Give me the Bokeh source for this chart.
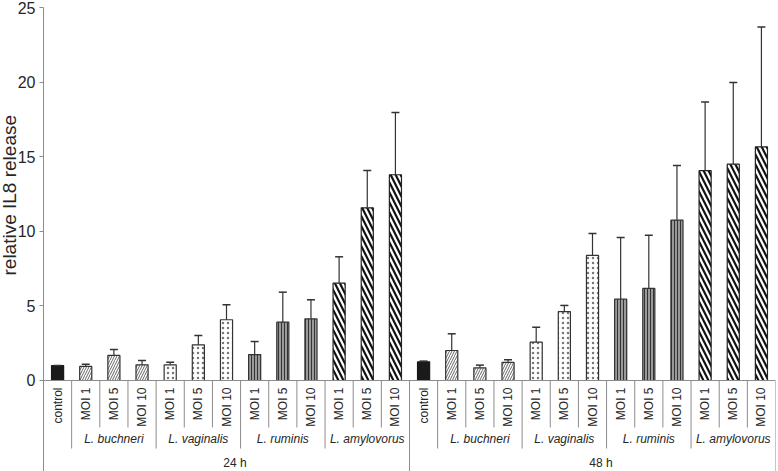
import math
from bokeh.plotting import figure
from bokeh.models import (ColumnDataSource, Range1d, FixedTicker, Whisker, TeeHead,
                          Title, Span)
from bokeh.embed import file_html
from bokeh.resources import INLINE
from bokeh.core.properties import value

# ---------------- data ----------------
times = ["24 h", "48 h"]
species = ["L. buchneri", "L. vaginalis", "L. ruminis", "L. amylovorus"]
mois = ["MOI 1", "MOI 5", "MOI 10"]
control_label = "control"

control_mean = [1.00, 1.25]
control_err = [0.00, 0.05]

# order: buchneri (MOI1,5,10), vaginalis, ruminis, amylovorus
mean_24 = [0.94, 1.68, 1.05, 1.05, 2.39, 4.07, 1.74, 3.91, 4.13, 6.52, 11.57, 13.79]
err_24 = [0.15, 0.40, 0.29, 0.18, 0.63, 1.00, 0.87, 2.01, 1.28, 1.77, 2.50, 4.17]
mean_48 = [2.01, 0.85, 1.21, 2.57, 4.62, 8.38, 5.45, 6.17, 10.75, 14.07, 14.50, 15.66]
err_48 = [1.12, 0.18, 0.18, 1.00, 0.41, 1.47, 4.13, 3.57, 3.66, 4.59, 5.47, 8.04]

y_ticks = [0, 5, 10, 15, 20, 25]
y_title = "relative IL8 release"

# ---------------- build table ----------------
means = [mean_24, mean_48]
errs = [err_24, err_48]
block = 1 + len(species) * len(mois)
n_cat = block * len(times)

rows = {"x": [], "top": [], "upper": [], "group": [], "label": []}
for t in range(len(times)):
    base = t * block
    rows["x"].append(base + 0.5)
    rows["top"].append(control_mean[t])
    rows["upper"].append(control_mean[t] + control_err[t])
    rows["group"].append(control_label)
    rows["label"].append(control_label)
    for s, sp in enumerate(species):
        for m, mo in enumerate(mois):
            k = s * len(mois) + m
            rows["x"].append(base + 1 + k + 0.5)
            rows["top"].append(means[t][k])
            rows["upper"].append(means[t][k] + errs[t][k])
            rows["group"].append(sp)
            rows["label"].append(mo)

# ---------------- figure ----------------
Y_MIN = -6.10
p = figure(width=778, height=471, x_range=Range1d(0, n_cat), y_range=Range1d(Y_MIN, 25),
           output_backend="svg", toolbar_location=None, x_axis_location=None,
           min_border_left=43, min_border_right=3, min_border_top=7, min_border_bottom=0)
p.outline_line_color = None
p.grid.visible = False
p.background_fill_color = "white"

FONT = "Liberation Sans"
TXT = "#262626"
GRAY = "#8c8c8c"

ax = p.yaxis[0]
ax.ticker = FixedTicker(ticks=y_ticks)
ax.minor_tick_line_color = None
ax.major_tick_in = 0
ax.major_tick_out = 4
ax.axis_line_color = GRAY
ax.major_tick_line_color = GRAY
ax.major_label_text_font = FONT
ax.major_label_text_font_size = "16px"
ax.major_label_text_color = TXT
ax.major_label_standoff = 4

styles = {
    "control": dict(fill_color="#1a1a1a", line_color="#1a1a1a"),
    "L. buchneri": dict(fill_color="white", line_color="#333333", hatch_pattern="/",
                        hatch_color="#666666", hatch_scale=5, hatch_weight=1),
    "L. vaginalis": dict(fill_color="white", line_color="#333333", hatch_pattern=".",
                         hatch_color="#777777", hatch_scale=5, hatch_weight=1),
    "L. ruminis": dict(fill_color="#9a9a9a", line_color="#333333", hatch_pattern="|",
                       hatch_color="#333333", hatch_scale=3, hatch_weight=1),
    "L. amylovorus": dict(fill_color="white", line_color="#222222", hatch_pattern="\\",
                          hatch_color="#111111", hatch_scale=10, hatch_weight=2.2),
}

for g, st in styles.items():
    idx = [i for i, gg in enumerate(rows["group"]) if gg == g]
    src = ColumnDataSource({k: [rows[k][i] for i in idx] for k in ("x", "top", "upper")})
    p.vbar(x="x", top="top", bottom=0, width=0.43, source=src, line_width=1.2, **st)
    w = Whisker(source=src, base="x", lower="top", upper="upper", dimension="height",
                line_color="#333333", line_width=1.2,
                upper_head=TeeHead(size=8, line_color="#333333", line_width=1.5),
                lower_head=None, level="overlay")
    p.add_layout(w)

# x axis line
p.add_layout(Span(location=0, dimension="width", line_color=GRAY, line_width=1))

# category label levels (data y below zero)
Y_L1 = -0.47
Y_INNER = -3.15
Y_SPECIES = -3.89
Y_GROUP = -4.56
Y_TIME = -5.50

lab_src = ColumnDataSource({"x": rows["x"], "label": rows["label"]})
p.text(x="x", y=Y_L1, text="label", source=lab_src, angle=math.pi / 2,
       text_align="right", text_baseline="middle", text_font=value(FONT),
       text_font_size="12px", text_color=TXT)

sp_x, sp_t = [], []
for t in range(len(times)):
    for s, sp in enumerate(species):
        sp_x.append(t * block + 1 + s * len(mois) + len(mois) / 2)
        sp_t.append(sp)
p.text(x=sp_x, y=Y_SPECIES, text=sp_t, text_align="center", text_baseline="middle",
       text_font=value(FONT), text_font_size="12px", text_font_style="italic",
       text_color=TXT)

p.text(x=[t * block + block / 2 + 0.3 for t in range(len(times))], y=Y_TIME, text=times,
       text_align="center", text_baseline="middle", text_font=value(FONT),
       text_font_size="12px", text_color=TXT)

# separators
sx, sy1 = [], []
for t in range(len(times)):
    base = t * block
    for k in range(1, block + 1):
        sx.append(base + k)
        if k == block:
            sy1.append(Y_MIN)
        elif (k - 1) % len(mois) == 0:
            sy1.append(Y_GROUP)
        else:
            sy1.append(Y_INNER)
p.segment(x0=sx, y0=0, x1=sx, y1=sy1, line_color=GRAY, line_width=1)

# y axis title (left panel, positioned up from the bottom of the frame)
p.add_layout(Title(text=y_title, align="left", offset=196, standoff=-10,
                   text_font=FONT, text_font_size="19px", text_font_style="normal",
                   text_color=TXT), "left")

open("out.html", "w").write(file_html(p, INLINE))
